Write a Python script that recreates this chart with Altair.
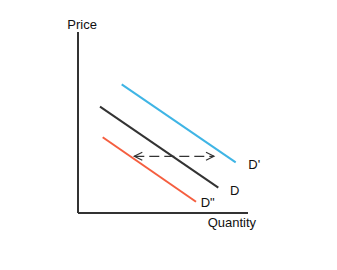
import altair as alt
import pandas as pd

# Demand curves (quantity, price) endpoints
curve_names = ["D'", "D", "D\""]
curve_q_start = [43.7, 22.0, 24.7]
curve_p_start = [128.7, 106.3, 75.7]
curve_q_end = [157.7, 140.3, 118.0]
curve_p_end = [50.7, 25.3, 11.3]
curve_colors = ["#3FB5E5", "#333333", "#F55E3F"]

# Shift arrow
arrow_q = [56.3, 136.0]
arrow_p = [56.7, 56.7]

# Axes
yaxis_q = [0, 0]
yaxis_p = [0, 181]
xaxis_q = [0, 170]
xaxis_p = [0, 0]

# Text labels
label_text = ["Price", "Quantity", "D'", "D", "D\""]
label_q = [-10.7, 129.7, 170.3, 152.0, 122.7]
label_p = [184.0, -14.0, 44.0, 18.0, 6.0]

W, H = 337, 270
xs = alt.Scale(domain=[-78, 259], range=[0, W])
ys = alt.Scale(domain=[-57, 213], range=[H, 0])

curves = pd.DataFrame({
    "name": curve_names, "q": curve_q_start, "p": curve_p_start,
    "q2": curve_q_end, "p2": curve_p_end, "color": curve_colors,
})
axes = pd.DataFrame({
    "q": [yaxis_q[0], xaxis_q[0]], "p": [yaxis_p[0], xaxis_p[0]],
    "q2": [yaxis_q[1], xaxis_q[1]], "p2": [yaxis_p[1], xaxis_p[1]],
})
arrow = pd.DataFrame({"q": [arrow_q[0]], "p": [arrow_p[0]], "q2": [arrow_q[1]], "p2": [arrow_p[1]]})
heads = pd.DataFrame({"q": arrow_q, "p": arrow_p, "side": ["left", "right"]})
labels = pd.DataFrame({"t": label_text, "q": label_q, "p": label_p})

X = lambda f: alt.X(f, type="quantitative", scale=xs, axis=None)
Y = lambda f: alt.Y(f, type="quantitative", scale=ys, axis=None)

axis_layer = alt.Chart(axes).mark_rule(color="#333333", strokeWidth=2).encode(
    x=X("q"), y=Y("p"), x2="q2", y2="p2")

curve_layer = alt.Chart(curves).mark_rule(strokeWidth=2).encode(
    x=X("q"), y=Y("p"), x2="q2", y2="p2",
    color=alt.Color("color:N", scale=None))

arrow_layer = alt.Chart(arrow).mark_rule(color="#333333", strokeWidth=1.2, strokeDash=[10, 5]).encode(
    x=X("q"), y=Y("p"), x2="q2", y2="p2")

right_head = alt.Chart(heads[heads.side == "right"]).mark_point(
    shape="M-2,-1L0,0L-2,1", filled=False, stroke="#333333", strokeWidth=1.2, size=64,
    opacity=1).encode(x=X("q"), y=Y("p"))
left_head = alt.Chart(heads[heads.side == "left"]).mark_point(
    shape="M2,-1L0,0L2,1", filled=False, stroke="#333333", strokeWidth=1.2, size=64,
    opacity=1).encode(x=X("q"), y=Y("p"))

text_layer = alt.Chart(labels).mark_text(
    align="left", baseline="alphabetic", font="Liberation Sans", fontSize=13, color="#111111"
).encode(x=X("q"), y=Y("p"), text="t:N")

chart = alt.layer(axis_layer, curve_layer, arrow_layer, right_head, left_head, text_layer).properties(
    width=W, height=H, padding=0, autosize=alt.AutoSizeParams(type="none"),
    background="white",
).configure_view(stroke=None)

chart.save("out.html", embed_options={"renderer": "svg", "actions": False})
